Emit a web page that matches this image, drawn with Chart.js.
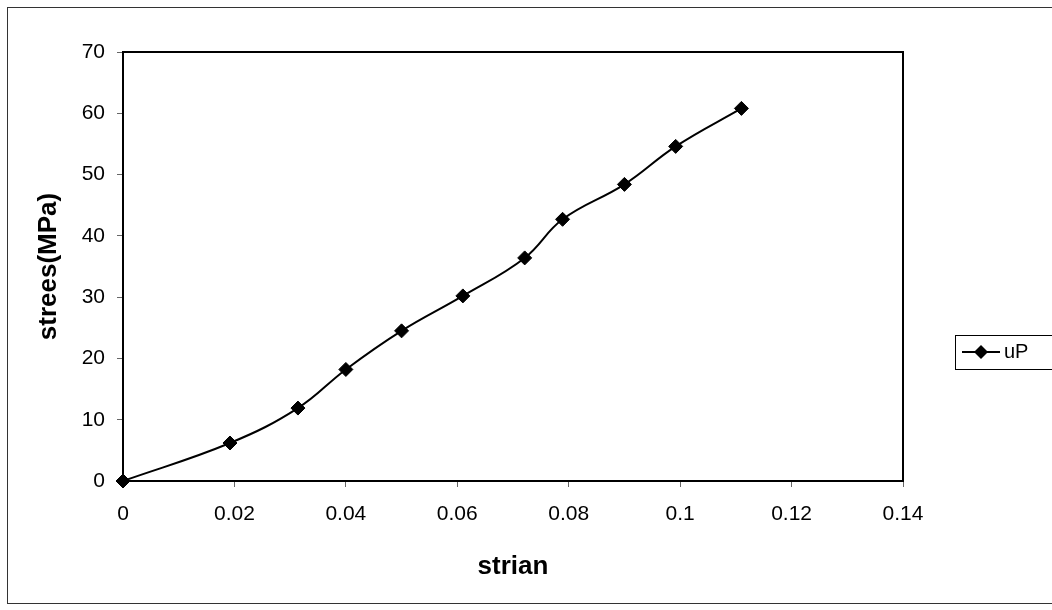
<!DOCTYPE html>
<html>
<head>
<meta charset="utf-8">
<script src="https://cdn.jsdelivr.net/npm/chart.js@4"></script>
<style>
    html, body { margin: 0; padding: 0; background: #fff; }
    canvas { display: block; }
</style>
</head>
<body>
<canvas id="chart" width="1052" height="610"></canvas>
<script>
// strain / stress readings
const strainValues = [0, 0.0192, 0.0314, 0.0400, 0.0500, 0.0610, 0.0721, 0.0789, 0.0900, 0.0992, 0.1110];
const stressValues = [0, 6.2, 11.9, 18.2, 24.5, 30.2, 36.4, 42.7, 48.4, 54.6, 60.8];
const xTickLabels = ['0', '0.02', '0.04', '0.06', '0.08', '0.1', '0.12', '0.14'];
const yTickLabels = ['0', '10', '20', '30', '40', '50', '60', '70'];
const seriesName = 'uP';

const FONT = 'Arial, "Liberation Sans", sans-serif';

// Excel style frame: outer border, plot box top/right edges, legend box
const framePlugin = {
    id: 'frame',
    afterDraw(chart) {
        const ctx = chart.ctx;
        const area = chart.chartArea;
        ctx.save();

        ctx.strokeStyle = '#333';
        ctx.lineWidth = 1;
        ctx.strokeRect(7.5, 7.5, 1100, 596);

        ctx.strokeStyle = '#000';
        ctx.lineWidth = 2;
        ctx.beginPath();
        ctx.moveTo(area.left - 1, area.top);
        ctx.lineTo(area.right, area.top);
        ctx.lineTo(area.right, area.bottom + 1);
        ctx.stroke();

        // legend
        const lx = 955, ly = 335;
        ctx.lineWidth = 1;
        ctx.strokeRect(lx + 0.5, ly + 0.5, 130, 34);
        ctx.lineWidth = 2;
        ctx.beginPath();
        ctx.moveTo(lx + 7, ly + 17);
        ctx.lineTo(lx + 45, ly + 17);
        ctx.stroke();
        ctx.fillStyle = '#000';
        ctx.beginPath();
        ctx.moveTo(lx + 26, ly + 10);
        ctx.lineTo(lx + 33, ly + 17);
        ctx.lineTo(lx + 26, ly + 24);
        ctx.lineTo(lx + 19, ly + 17);
        ctx.closePath();
        ctx.fill();
        ctx.font = '20px ' + FONT;
        ctx.textBaseline = 'middle';
        ctx.fillText(chart.data.datasets[0].label, lx + 49, ly + 17);

        ctx.restore();
    }
};

new Chart(document.getElementById('chart'), {
    type: 'line',
    data: {
        datasets: [{
            label: seriesName,
            data: strainValues.map((x, i) => ({ x: x, y: stressValues[i] })),
            borderColor: '#000',
            borderWidth: 2,
            backgroundColor: '#000',
            pointStyle: 'rectRot',
            pointRadius: 7,
            pointBorderWidth: 1,
            pointBackgroundColor: '#000',
            tension: 0.4,
            fill: false,
            clip: false
        }]
    },
    options: {
        responsive: false,
        animation: false,
        devicePixelRatio: 1,
        layout: {
            padding: { left: 0, top: 52, right: 149, bottom: 0 }
        },
        scales: {
            x: {
                type: 'linear',
                min: 0,
                max: 0.14,
                afterFit: (scale) => { scale.height = 129; },
                ticks: {
                    stepSize: 0.02,
                    padding: 15,
                    color: '#000',
                    maxRotation: 0,
                    font: { family: FONT, size: 21 },
                    callback: (value, index) => xTickLabels[index]
                },
                grid: { drawOnChartArea: false, drawTicks: true, tickLength: 6, color: '#666', lineWidth: 1 },
                border: { display: true, color: '#000', width: 2 },
                title: {
                    display: true,
                    text: 'strian',
                    color: '#000',
                    font: { family: FONT, size: 26, weight: 'bold' },
                    padding: { top: 0, bottom: 28 }
                }
            },
            y: {
                type: 'linear',
                min: 0,
                max: 70,
                afterFit: (scale) => { scale.width = 123; },
                ticks: {
                    stepSize: 10,
                    padding: 12,
                    color: '#000',
                    font: { family: FONT, size: 21 },
                    callback: (value, index) => yTickLabels[index]
                },
                grid: { drawOnChartArea: false, drawTicks: true, tickLength: 6, color: '#666', lineWidth: 1 },
                border: { display: true, color: '#000', width: 2 },
                title: {
                    display: true,
                    text: 'strees(MPa)',
                    color: '#000',
                    font: { family: FONT, size: 26, weight: 'bold' },
                    padding: { top: 33, bottom: 0 }
                }
            }
        },
        plugins: {
            legend: { display: false },
            tooltip: { enabled: false }
        }
    },
    plugins: [framePlugin]
});
</script>
</body>
</html>
